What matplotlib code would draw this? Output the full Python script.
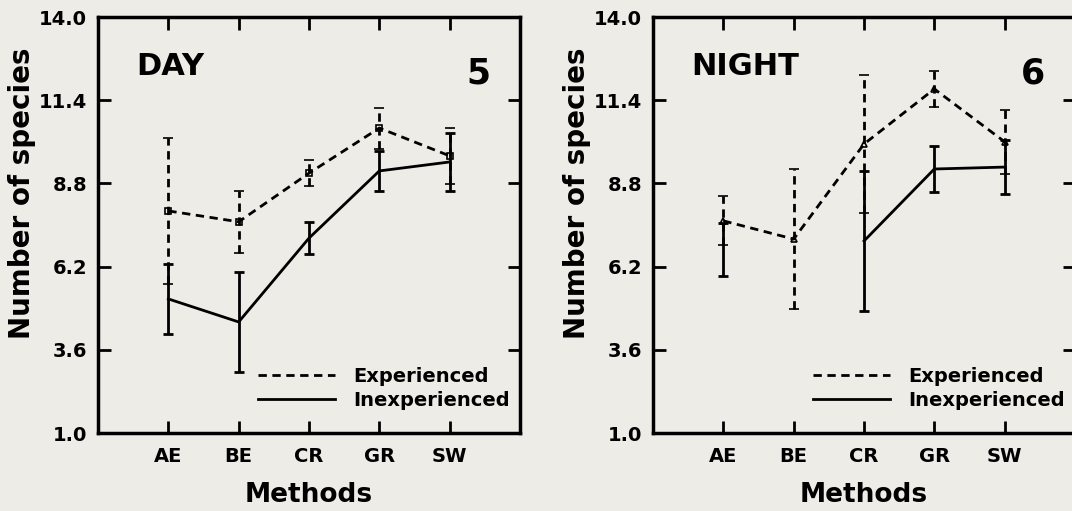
import numpy as np
import matplotlib
matplotlib.use("Agg")
import matplotlib.pyplot as plt
from matplotlib.lines import Line2D

# datos
metodos = ["AE", "BE", "CR", "GR", "SW"]
yticks = [1.0, 3.6, 6.2, 8.8, 11.4, 14.0]

dia_exp = [7.94, 7.60, 9.12, 10.53, 9.66]
dia_exp_err = [2.28, 0.97, 0.40, 0.64, 0.88]
dia_inexp = [5.19, 4.47, 7.09, 9.19, 9.47]
dia_inexp_err = [1.10, 1.56, 0.50, 0.62, 0.90]

noche_exp = [7.63, 7.06, 10.03, 11.75, 10.10]
noche_exp_err = [0.77, 2.20, 2.16, 0.57, 1.00]
noche_inexp = [6.73, np.nan, 7.00, 9.25, 9.31]
noche_inexp_err = [0.83, np.nan, 2.20, 0.72, 0.85]

fondo = "#edece7"
guion = (0, (3, 2))

plt.rcParams["font.family"] = "DejaVu Sans"
plt.rcParams["font.weight"] = "bold"

fig = plt.figure(figsize=(10.72, 5.11), dpi=100, facecolor=fondo)
W, H = 1072, 511


def panel(x0, titulo, numero, exp, exp_err, inexp, inexp_err, marca):
    ax = fig.add_axes([x0 / W, 78 / H, 422 / W, 416 / H], facecolor=fondo)
    x = np.arange(1, len(metodos) + 1)

    e = ax.errorbar(x, exp, yerr=exp_err, color="black", lw=2, ls=guion,
                    marker=marca, mfc="none", ms=5, mew=1.2,
                    elinewidth=2, capsize=3.5, capthick=2)
    e[2][0].set_linestyle(guion)
    ax.errorbar(x, inexp, yerr=inexp_err, color="black", lw=2,
                elinewidth=2, capsize=3.5, capthick=2)

    ax.set_xlim(0, 6)
    ax.set_ylim(1, 14)
    ax.set_xticks(x)
    ax.set_xticklabels(metodos, fontsize=14, fontweight="bold")
    ax.set_yticks(yticks)
    ax.set_yticklabels(["%.1f" % v for v in yticks], fontsize=14, fontweight="bold")
    ax.tick_params(direction="in", top=True, right=True, length=9, width=2, pad=8)
    ax.tick_params(axis="x", pad=10)
    for s in ax.spines.values():
        s.set_linewidth(2.5)

    ax.text(0.09, 0.88, titulo, transform=ax.transAxes, fontsize=22,
            fontweight="bold", ha="left", va="center")
    ax.text(0.93, 0.865, numero, transform=ax.transAxes, fontsize=25,
            fontweight="bold", ha="right", va="center")

    ax.text(-76 / 422, (433 - 193) / 416, "Number of species", transform=ax.transAxes,
            rotation=90, fontsize=20, fontweight="bold", ha="center", va="center")
    ax.text(0.5, -(495 - 433) / 416, "Methods", transform=ax.transAxes,
            fontsize=19, fontweight="bold", ha="center", va="center")

    manejadores = [Line2D([], [], color="black", lw=2, ls=guion),
                   Line2D([], [], color="black", lw=2)]
    ax.legend(manejadores, ["Experienced", "Inexperienced"], loc="lower right",
              bbox_to_anchor=(0.975, 0.055), frameon=False, fontsize=14,
              handlelength=4, handletextpad=0.9, labelspacing=0.25,
              borderpad=0, borderaxespad=0)
    return ax


panel(98, "DAY", "5", dia_exp, dia_exp_err, dia_inexp, dia_inexp_err, "s")
panel(653, "NIGHT", "6", noche_exp, noche_exp_err, noche_inexp, noche_inexp_err, "^")

fig.savefig("out.png", dpi=100, facecolor=fondo)
